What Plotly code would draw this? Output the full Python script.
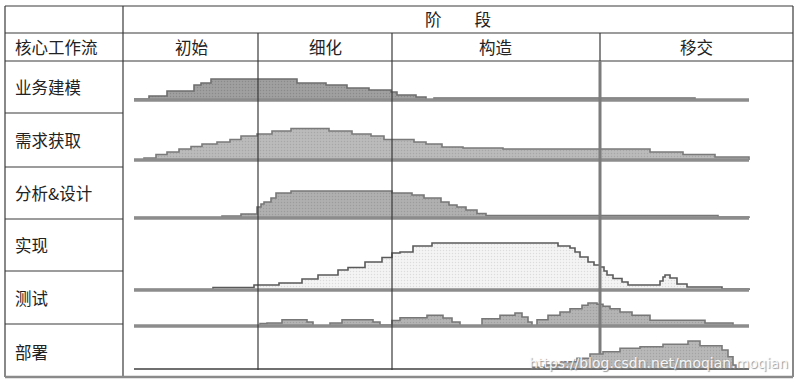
import plotly.graph_objects as go

W, H = 803, 384

# ---------------- data ----------------
stage_title = "阶\u3000\u3000段"
workflow_header = "核心工作流"
phases = ["初始", "细化", "构造", "移交"]
phase_edges = [0, 134, 268, 476, 669]          # project time units
workflows = ["业务建模", "需求获取", "分析&设计", "实现", "测试", "部署"]
timeline = [10, 625]                            # start / end of every workflow line

biz_t = [10, 25, 43, 70, 77, 87, 173, 202, 223, 245, 267, 273, 292, 302, 310, 571, 625]
biz_h = [1, 4, 9, 15, 17, 21, 17, 15, 12, 10, 8, 5, 3, 0, 2, 0, 0]

req_t = [10, 20, 32, 43, 55, 67, 78, 93, 106, 117, 133, 148, 167, 205, 228, 247, 260,
         290, 302, 318, 339, 379, 526, 559, 591, 625]
req_h = [0, 2, 5.5, 8, 11, 13.5, 16, 18, 20.5, 24, 26, 29, 31.5, 29, 26, 24, 20.5,
         18, 16, 13, 12, 11, 8, 5.5, 3, 0]

ana_t = [10, 98, 117, 133, 137, 140, 147, 152, 167, 268, 288, 300, 317, 325, 333, 342,
         353, 362, 594, 625]
ana_h = [0.5, 2, 4, 11, 14, 16, 20, 25, 27, 25, 23, 20, 16, 13, 11, 8, 4.5, 2.5, 1, 0]

imp_t = [10, 89, 130, 155, 178, 194, 214, 224, 241, 258, 268, 276, 289, 308, 434, 446,
         451, 456, 464, 470, 476, 480, 483, 489, 498, 504, 536, 539, 541, 546, 553, 563,
         598, 625]
imp_h = [0.5, 2.5, 5, 7, 11, 15, 20, 22.5, 28, 32.5, 37, 38, 44, 47, 44, 42,
         38, 33, 28, 25, 23, 19, 15, 11.5, 8, 5, 9, 13, 15, 12, 6, 3,
         1, 0]

tst_t = [10, 136, 143, 158, 183, 189, 206, 218, 249, 256, 268, 276, 303, 319, 328, 336,
         358, 376, 391, 398, 404, 408, 413, 424, 436, 446, 458, 464, 473, 479, 486, 496,
         508, 526, 581, 609, 625]
tst_h = [0, 2.5, 3, 6.3, 4, 0, 3, 6.3, 4, 1, 5.5, 8.3, 10.7, 8, 4, 0,
         7.3, 10.7, 13, 9, 4, 0, 6.3, 10.7, 14, 17.3, 20.7, 23, 21.7, 19.7, 17.3, 14,
         10.7, 5.7, 3, 0, 0]

dep_t = [10, 409, 421, 436, 453, 466, 479, 496, 516, 539, 564, 576, 598, 604, 609, 612, 625]
dep_h = [0, 1.7, 4, 7.3, 10.7, 15, 17.3, 20.7, 22.3, 24.7, 28, 23.3, 19, 12.3, 4, 0, 0]

watermark = "https://blog.csdn.net/moqian.moqian"

series = [(biz_t, biz_h), (req_t, req_h), (ana_t, ana_h),
          (imp_t, imp_h), (tst_t, tst_h), (dep_t, dep_h)]

# ---------------- layout helpers ----------------
def X(px):
    return px / W

def Y(py):
    return 1 - py / H

baselines_px = [100, 160, 218, 290, 326, 369]
band_top, band_bot = 50, 5
styles = [
    dict(bg="#a0a0a0", fg="#737373", line="#6e6e6e"),
    dict(bg="#bbbbbb", fg="#939393", line="#7a7a7a"),
    dict(bg="#b0b0b0", fg="#888888", line="#777777"),
    dict(bg="#f4f4f4", fg="#c4c4c4", line="#5a5a5a"),
    dict(bg="#b4b4b4", fg="#8c8c8c", line="#777777"),
    dict(bg="#b8b8b8", fg="#8e8e8e", line="#7a7a7a"),
]

fig = go.Figure()
layout_axes = {}
for i, ((t, h), b, st) in enumerate(zip(series, baselines_px, styles)):
    yname = "y" if i == 0 else f"y{i+1}"
    fig.add_trace(go.Scatter(
        x=t, y=h, mode="lines", line=dict(shape="hv", color=st["line"], width=1.6),
        fill="tozeroy", fillcolor=st["bg"],
        fillpattern=dict(shape=".", bgcolor=st["bg"], fgcolor=st["fg"], size=3, solidity=0.2),
        xaxis="x", yaxis=yname, hoverinfo="skip", showlegend=False))
    fig.add_trace(go.Scatter(
        x=timeline, y=[0, 0], mode="lines",
        line=dict(color="#6f6f6f" if i == 5 else "#8c8c8c", width=2 if i == 5 else 3.4),
        xaxis="x", yaxis=yname, hoverinfo="skip", showlegend=False))
    key = "yaxis" if i == 0 else f"yaxis{i+1}"
    layout_axes[key] = dict(domain=[Y(b + band_bot), Y(b - band_top)],
                            range=[-band_bot, band_top], visible=False,
                            fixedrange=True, anchor="x")

fig.update_layout(
    width=W, height=H, margin=dict(l=0, r=0, t=0, b=0),
    paper_bgcolor="white", plot_bgcolor="rgba(0,0,0,0)",
    xaxis=dict(domain=[X(124), X(793)], range=[phase_edges[0], phase_edges[-1]],
               visible=False, fixedrange=True),
    **layout_axes,
)

shapes = []
thin = dict(color="#3a3a3a", width=1.2)

def pline(x0, y0, x1, y1, line=thin):
    shapes.append(dict(type="line", xref="paper", yref="paper",
                       x0=X(x0), y0=Y(y0), x1=X(x1), y1=Y(y1), line=line, layer="above"))

# outer frame & header
pline(5, 6, 793, 6)
pline(5, 6, 5, 377)
pline(793, 6, 793, 377)
pline(123, 6, 123, 377)
pline(5, 33, 793, 33)
pline(5, 61, 793, 61)
pline(5, 377, 793, 377, dict(color="#8a8a8a", width=2.5))
for py in [113, 167, 219, 271, 324]:
    pline(5, py, 123, py)

# phase dividers (in project time)
for k, e in enumerate(phase_edges[1:-1]):
    if k < 2:
        shapes.append(dict(type="line", xref="x", yref="paper", x0=e, x1=e,
                           y0=Y(33), y1=Y(370), line=thin, layer="above"))
    else:
        shapes.append(dict(type="line", xref="x", yref="paper", x0=e, x1=e,
                           y0=Y(33), y1=Y(61), line=thin, layer="above"))
        shapes.append(dict(type="line", xref="x", yref="paper", x0=e, x1=e,
                           y0=Y(61), y1=Y(354), line=dict(color="#7c7c7c", width=3),
                           layer="above"))
fig.update_layout(shapes=shapes)

font = dict(family="Noto Sans CJK SC", size=16.5, color="#222222")
ann = []
ann.append(dict(text=stage_title, xref="paper", yref="paper", x=X(458), y=Y(19),
                showarrow=False, font=font, xanchor="center", yanchor="middle"))
ann.append(dict(text=workflow_header, xref="paper", yref="paper", x=X(13), y=Y(47),
                showarrow=False, font=font, xanchor="left", yanchor="middle"))
for name, a, b in zip(phases, phase_edges[:-1], phase_edges[1:]):
    ann.append(dict(text=name, xref="x", yref="paper", x=(a + b) / 2, y=Y(47),
                    showarrow=False, font=font, xanchor="center", yanchor="middle"))
for name, py in zip(workflows, [87, 140, 193, 245, 298, 352]):
    ann.append(dict(text=name, xref="paper", yref="paper", x=X(13), y=Y(py),
                    showarrow=False, font=font, xanchor="left", yanchor="middle"))
ann.append(dict(text=watermark, xref="paper", yref="paper", x=X(790), y=Y(363),
                showarrow=False, xanchor="right", yanchor="middle",
                font=dict(family="DejaVu Sans", size=14, color="rgba(255,255,255,0.9)",
                          shadow="1px 1px 1px #8a8a8a")))
fig.update_layout(annotations=ann)

fig.write_html("out.html")
